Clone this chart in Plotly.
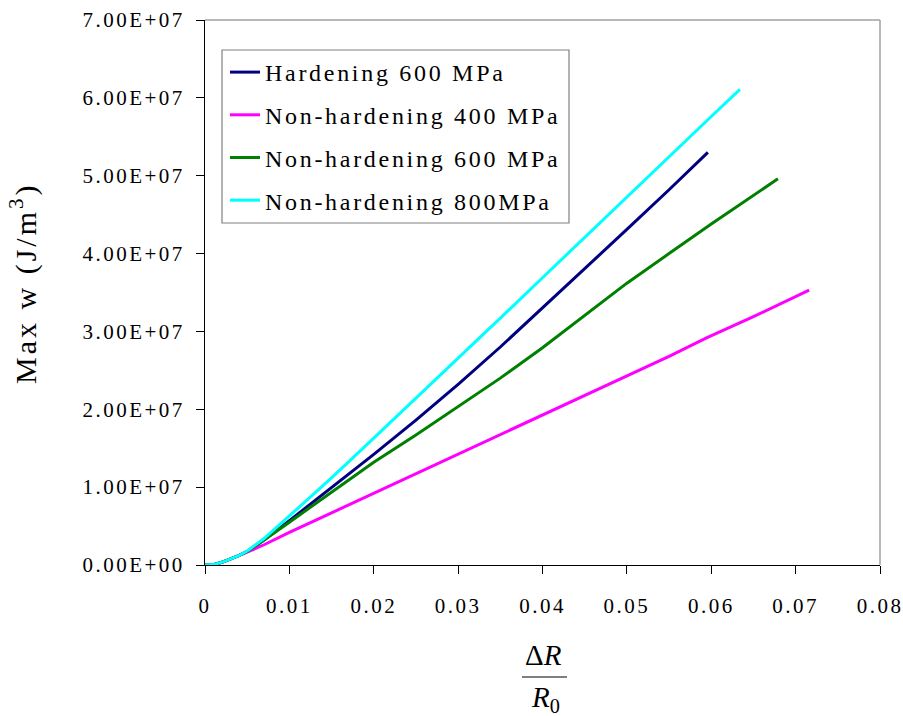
import plotly.graph_objects as go

# ---------------- data ----------------
series_names = ["Hardening 600 MPa", "Non-hardening 400 MPa",
                "Non-hardening 600 MPa", "Non-hardening 800MPa"]

x_hard600 = [0, 0.001, 0.002, 0.003, 0.004, 0.005, 0.007, 0.01, 0.015, 0.02, 0.025,
             0.03, 0.035, 0.04, 0.045, 0.05, 0.055, 0.0596]
y_hard600 = [0, 0.05e6, 0.35e6, 0.75e6, 1.2e6, 1.75e6, 3.2e6, 5.7e6, 9.9e6, 1.42e7, 1.86e7,
             2.32e7, 2.80e7, 3.30e7, 3.80e7, 4.31e7, 4.82e7, 5.30e7]

x_non400 = [0, 0.001, 0.002, 0.003, 0.004, 0.005, 0.007, 0.01, 0.015, 0.02, 0.025,
            0.03, 0.035, 0.04, 0.045, 0.05, 0.055, 0.0595, 0.065, 0.0716]
y_non400 = [0, 0.05e6, 0.35e6, 0.75e6, 1.2e6, 1.65e6, 2.6e6, 4.2e6, 6.7e6, 9.2e6, 1.17e7,
            1.42e7, 1.67e7, 1.92e7, 2.18e7, 2.43e7, 2.68e7, 2.92e7, 3.19e7, 3.53e7]

x_non600 = [0, 0.001, 0.002, 0.003, 0.004, 0.005, 0.007, 0.01, 0.015, 0.02, 0.025,
            0.03, 0.035, 0.04, 0.045, 0.05, 0.055, 0.06, 0.0679]
y_non600 = [0, 0.05e6, 0.35e6, 0.75e6, 1.2e6, 1.75e6, 3.2e6, 5.5e6, 9.4e6, 1.32e7, 1.67e7,
            2.03e7, 2.40e7, 2.79e7, 3.21e7, 3.62e7, 4.00e7, 4.38e7, 4.96e7]

x_non800 = [0, 0.001, 0.002, 0.003, 0.004, 0.005, 0.007, 0.01, 0.015, 0.02, 0.025,
            0.03, 0.035, 0.04, 0.045, 0.05, 0.055, 0.06, 0.0634]
y_non800 = [0, 0.05e6, 0.35e6, 0.75e6, 1.2e6, 1.8e6, 3.4e6, 6.3e6, 1.12e7, 1.63e7, 2.14e7,
            2.66e7, 3.17e7, 3.69e7, 4.21e7, 4.73e7, 5.24e7, 5.76e7, 6.11e7]

x_tickvals = [0, 0.01, 0.02, 0.03, 0.04, 0.05, 0.06, 0.07, 0.08]
x_ticktext = ["0", "0.01", "0.02", "0.03", "0.04", "0.05", "0.06", "0.07", "0.08"]
y_tickvals = [0, 1e7, 2e7, 3e7, 4e7, 5e7, 6e7, 7e7]
y_ticktext = ["0.00E+00", "1.00E+07", "2.00E+07", "3.00E+07", "4.00E+07",
              "5.00E+07", "6.00E+07", "7.00E+07"]

colors = ["#000080", "#FF00FF", "#008000", "#00FFFF"]
xs = [x_hard600, x_non400, x_non600, x_non800]
ys = [y_hard600, y_non400, y_non600, y_non800]

FONT = "Liberation Serif"

fig = go.Figure()
for i, (name, xv, yv, c) in enumerate(zip(series_names, xs, ys, colors)):
    fig.add_trace(go.Scatter(x=xv, y=yv, mode="lines", name=name,
                             legendgroup="g%d" % i,
                             line=dict(color=c, width=3)))

L, R, T, B = 205, 23, 20, 151
W, H = 903, 716
pw, ph = W - L - R, H - T - B

def px(xp):
    return (xp - L) / pw

def py(yp):
    return (H - B - yp) / ph

fig.update_layout(
    width=W, height=H,
    margin=dict(l=L, r=R, t=T, b=B, pad=0, autoexpand=False),
    paper_bgcolor="white", plot_bgcolor="white",
    font=dict(family=FONT, color="black"),
    showlegend=True,
    legend=dict(x=px(225), y=py(50), xanchor="left", yanchor="top",
                bgcolor="rgba(0,0,0,0)", borderwidth=0,
                font=dict(family=FONT, size=24, color="black"),
                tracegroupgap=8.5, traceorder="grouped"),
    xaxis=dict(range=[0, 0.08], tickvals=x_tickvals, ticktext=x_ticktext,
               showgrid=False, zeroline=False, showline=True, linecolor="black",
               linewidth=1, ticks="outside", ticklen=8, tickcolor="black",
               tickfont=dict(family=FONT, size=21, color="black"),
               ticklabelstandoff=14, automargin=False),
    yaxis=dict(range=[0, 7e7], tickvals=y_tickvals, ticktext=y_ticktext,
               showgrid=False, zeroline=False, showline=True, linecolor="black",
               linewidth=1, ticks="outside", ticklen=8, tickcolor="black",
               tickfont=dict(family=FONT, size=21, color="black"),
               ticklabelstandoff=7, automargin=False),
    shapes=[
        dict(type="line", xref="paper", yref="paper", x0=0, x1=1, y0=1, y1=1,
             line=dict(color="#A0A0A0", width=1.5)),
        dict(type="line", xref="paper", yref="paper", x0=1, x1=1, y0=0, y1=1,
             line=dict(color="#A0A0A0", width=1.5)),
        dict(type="rect", xref="paper", yref="paper", x0=px(222), x1=px(569),
             y0=py(223), y1=py(50), line=dict(color="#808080", width=1.2),
             fillcolor="white", layer="below"),
        dict(type="line", xref="paper", yref="paper", x0=px(522), x1=px(567),
             y0=py(677), y1=py(677), line=dict(color="black", width=1.2)),
    ],
    annotations=[
        dict(text="Max w (J/m<sup>3</sup>)", xref="paper", yref="paper",
             x=px(23), y=py(283), textangle=-90, showarrow=False,
             xanchor="center", yanchor="middle",
             font=dict(family=FONT, size=30, color="black")),
        dict(text="Δ<i>R</i>", xref="paper", yref="paper", x=px(543), y=py(655),
             showarrow=False, xanchor="center", yanchor="middle",
             font=dict(family=FONT, size=29, color="black")),
        dict(text="<i>R</i><sub>0</sub>", xref="paper", yref="paper", x=px(545),
             y=py(699), showarrow=False, xanchor="center", yanchor="middle",
             font=dict(family=FONT, size=29, color="black")),
    ],
)

post = """
document.body.style.margin = '0';
document.body.style.padding = '0';
var gd = document.getElementById('{plot_id}');
gd.querySelectorAll('.xtick text, .ytick text').forEach(function(t){ t.style.letterSpacing = '2.5px'; });
gd.querySelectorAll('.legendtext').forEach(function(t){ t.style.letterSpacing = '2.7px'; });
gd.querySelectorAll('.legend .scrollbox').forEach(function(t){ t.removeAttribute('clip-path'); });
gd.querySelectorAll('.legend').forEach(function(t){ t.removeAttribute('clip-path'); });
gd.querySelectorAll('.annotation-text').forEach(function(t){
  if (t.textContent.indexOf('Max') >= 0) { t.style.letterSpacing = '3px'; }
});
"""

fig.write_html("out.html", post_script=post, config={"displayModeBar": False})
